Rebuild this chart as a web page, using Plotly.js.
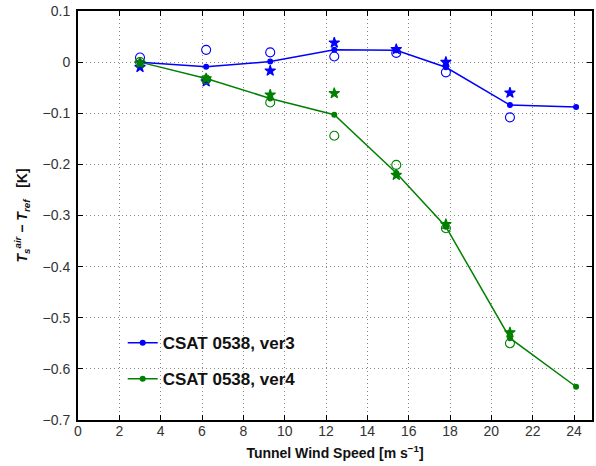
<!DOCTYPE html>
<html>
<head>
<meta charset="utf-8">
<script src="https://cdn.plot.ly/plotly-3.0.1.min.js"></script>
<style>
  html, body { margin: 0; padding: 0; background: #fff; }
  #chart { width: 596px; height: 466px; }
</style>
</head>
<body>
<div id="chart"></div>
<script>
// Tunnel wind speeds [m/s]
const windSpeed = [3.0, 6.2, 9.3, 12.4, 15.4, 17.8, 20.9, 24.1];
const windSpeedRuns = [3.0, 6.2, 9.3, 12.4, 15.4, 17.8, 20.9];

// CSAT 0538, ver3: mean curve and the two individual runs (circle / star)
const ver3Mean  = [0.000, -0.009, 0.001, 0.024, 0.023, -0.010, -0.084, -0.088];
const ver3RunA  = [0.009, 0.024, 0.019, 0.011, 0.018, -0.020, -0.108];
const ver3RunB  = [-0.010, -0.038, -0.017, 0.038, 0.025, 0.000, -0.060];

// CSAT 0538, ver4: mean curve and the two individual runs (circle / star)
const ver4Mean  = [0.000, -0.032, -0.071, -0.103, -0.217, -0.322, -0.540, -0.635];
const ver4RunA  = [0.000, -0.034, -0.079, -0.144, -0.201, -0.325, -0.550];
const ver4RunB  = [-0.002, -0.032, -0.064, -0.061, -0.221, -0.317, -0.529];

const seriesNames = ['CSAT 0538, ver3', 'CSAT 0538, ver4'];

const BLUE = 'rgb(0,0,255)';
const GREEN = 'rgb(0,128,0)';
const FONT = '"Liberation Sans", Arial, Helvetica, sans-serif';

function meanTrace(y, name, color, group) {
  return {
    x: windSpeed, y: y, name: name, legendgroup: group,
    type: 'scatter', mode: 'lines+markers',
    line: { color: color, width: 1.5 },
    marker: { color: color, size: 6, symbol: 'circle' }
  };
}
function runTrace(x, y, color, symbol, size) {
  return {
    x: x, y: y, type: 'scatter', mode: 'markers', showlegend: false,
    hoverinfo: 'x+y',
    marker: { color: color, size: size, symbol: symbol,
              line: { color: color, width: 1.1 } }
  };
}

const traces = [
  runTrace(windSpeedRuns, ver3RunA, BLUE, 'circle-open', 9),
  runTrace(windSpeedRuns, ver3RunB, BLUE, 'star', 8),
  runTrace(windSpeedRuns, ver4RunA, GREEN, 'circle-open', 9),
  runTrace(windSpeedRuns, ver4RunB, GREEN, 'star', 8),
  meanTrace(ver3Mean, seriesNames[0], BLUE, 'g3'),
  meanTrace(ver4Mean, seriesNames[1], GREEN, 'g4')
];

const axisCommon = {
  showline: true, linecolor: '#000', linewidth: 2, mirror: 'ticks',
  ticks: 'inside', ticklen: 5, tickwidth: 1, tickcolor: '#000',
  showgrid: true, gridcolor: '#8a8a8a', gridwidth: 1, griddash: '1px,3px',
  zeroline: false,
  tickfont: { family: FONT, size: 14, color: '#333' }
};

const layout = {
  width: 596, height: 466,
  margin: { l: 78, r: 4, t: 11, b: 46 },
  paper_bgcolor: '#fff', plot_bgcolor: '#fff',
  showlegend: true,
  legend: {
    x: 0.087, y: 0.232, xanchor: 'left', yanchor: 'top',
    bgcolor: 'rgba(0,0,0,0)', borderwidth: 0,
    traceorder: 'grouped', tracegroupgap: 11,
    font: { family: FONT, size: 17, color: '#111', weight: 'bold' }
  },
  xaxis: Object.assign({}, axisCommon, {
    range: [0, 24.87], tick0: 0, dtick: 2, ticklabelstandoff: -3,
    title: { text: '<b>Tunnel Wind Speed [m s<sup>−1</sup>]</b>',
             font: { family: FONT, size: 14, color: '#111' }, standoff: 10 }
  }),
  yaxis: Object.assign({}, axisCommon, {
    range: [-0.7, 0.1], tick0: 0, dtick: 0.1, ticklabelstandoff: 3,
    title: { text: '<b><i>T</i><sub><i>s</i></sub><sup><i>air</i></sup> − <i>T</i><sub><i>ref</i></sub>   [K]</b>',
             font: { family: FONT, size: 14, color: '#111' }, standoff: 12 }
  })
};

Plotly.newPlot('chart', traces, layout, { staticPlot: true, displayModeBar: false });
</script>
</body>
</html>
